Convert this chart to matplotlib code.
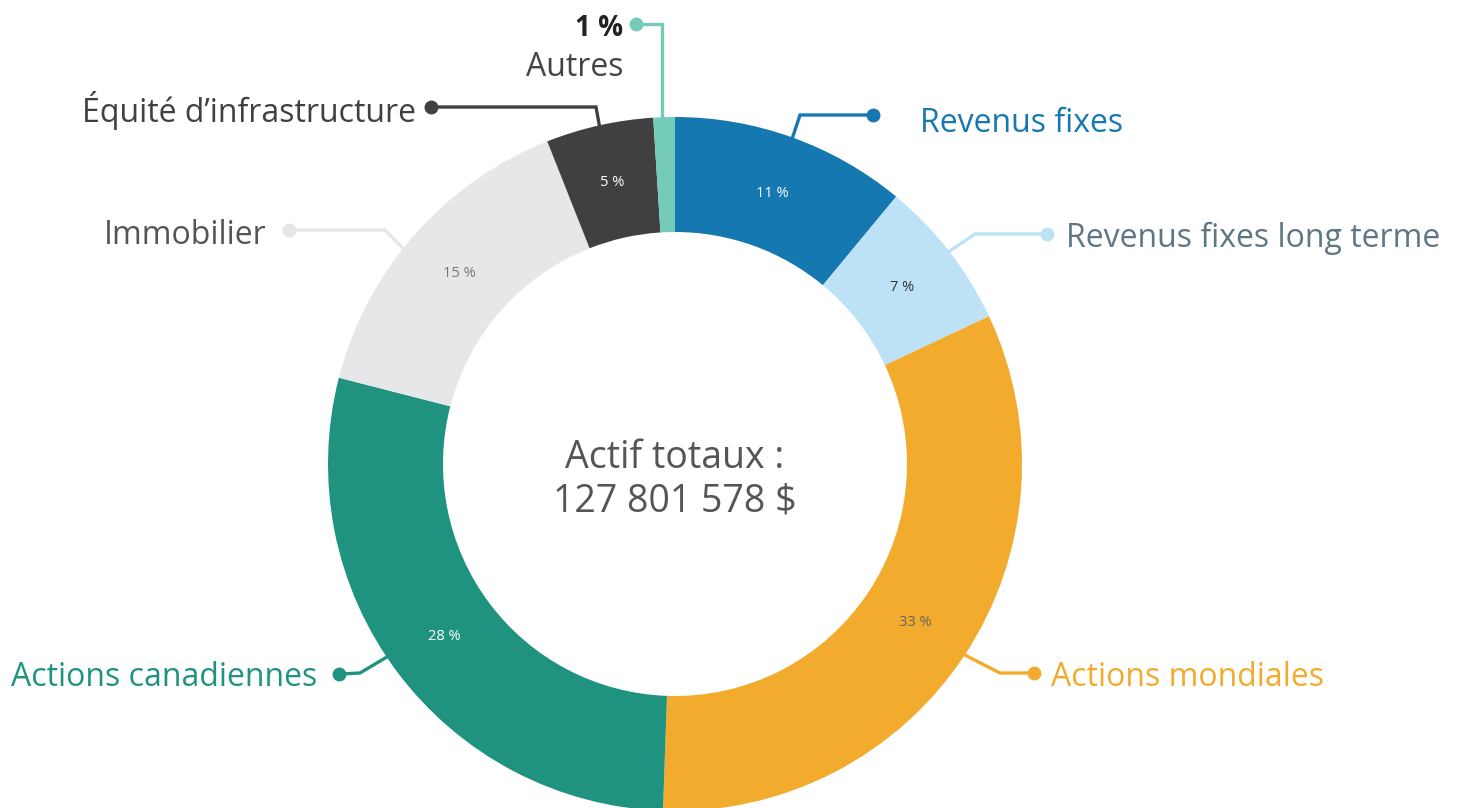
import numpy as np
import matplotlib.pyplot as plt

# données
categories = ["Revenus fixes", "Revenus fixes long terme", "Actions mondiales",
              "Actions canadiennes", "Immobilier", "Équité d’infrastructure", "Autres"]
valeurs = [11.0, 7.0, 32.55, 28.45, 15.0, 5.0, 1.0]
total_txt = "Actif totaux :\n127 801 578 $"

# styles
couleurs = ["#1578b0", "#bde2f5", "#f2ab2c", "#209380", "#e6e7e9", "#404040", "#74cbb8"]
couleurs_txt = ["#1578b0", "#5f7684", "#f2ab2c", "#209380", "#555555", "#404040", "#444444"]
couleurs_pct = ["white", "#333333", "#666666", "white", "#777777", "white", None]

plt.rcParams['font.family'] = ['Open Sans', 'DejaVu Sans']

cx, cy, R, W = 675, 464, 347, 115

fig = plt.figure(figsize=(14.59, 8.08), dpi=100)
ax = fig.add_axes([0, 0, 1, 1])

wedges, _, autotexts = ax.pie(valeurs, colors=couleurs, startangle=-90, counterclock=True,
                              radius=R, center=(cx, cy), autopct=lambda p: f"{p:.0f} %",
                              pctdistance=0.83, wedgeprops=dict(width=W, linewidth=0),
                              textprops=dict(fontsize=10.5))
for t, c in zip(autotexts, couleurs_pct):
    if c is None:
        t.set_text("")
    else:
        t.set_color(c)

ax.set_xlim(0, 1459)
ax.set_ylim(808, 0)
ax.set_aspect('equal')
ax.axis('off')

# lignes de rappel (décalage d'angle, coude, point) et positions des étiquettes
decal = [0, 0, 0, 3, -3, 0, 0]
coudes = [(800, 115), (975, 234), (1000, 673), (360, 673), (385, 230), (596, 107), (662, 24)]
points = [(873, 115), (1047, 234), (1034, 673), (339, 674), (289, 230), (431, 107), (636, 24)]
etiq = [(920, 121, 'left'), (1066, 236, 'left'), (1051, 675, 'left'), (317, 675, 'right'),
        (267, 234, 'right'), (416, 108, 'right'), (623, 66, 'right')]

cum = np.cumsum([0] + valeurs)
for i, w in enumerate(wedges):
    mid = (cum[i] + cum[i + 1]) / 2 / sum(valeurs) * 2 * np.pi  # depuis le haut, sens horaire
    mid += np.radians(decal[i])
    x0 = cx + R * np.sin(mid)
    y0 = cy - R * np.cos(mid)
    if i == 6:
        x0 = coudes[i][0]
    xs = [x0, coudes[i][0], points[i][0]]
    ys = [y0, coudes[i][1], points[i][1]]
    ax.plot(xs, ys, color=couleurs[i], lw=2.4, solid_joinstyle='miter', zorder=1)
    ax.plot(points[i][0], points[i][1], 'o', color=couleurs[i], ms=9, zorder=2)
    tx, ty, ha = etiq[i]
    ax.text(tx, ty + 2, categories[i], color=couleurs_txt[i], fontsize=23, ha=ha, va='center')

ax.text(623, 28, f"{valeurs[6]:.0f} %", color="#222222", fontsize=20, fontweight='bold',
        ha='right', va='center')

ax.text(cx, 480, total_txt, color="#555555", fontsize=27, ha='center', va='center',
        linespacing=1.2)

fig.savefig("out.png", dpi=100)
